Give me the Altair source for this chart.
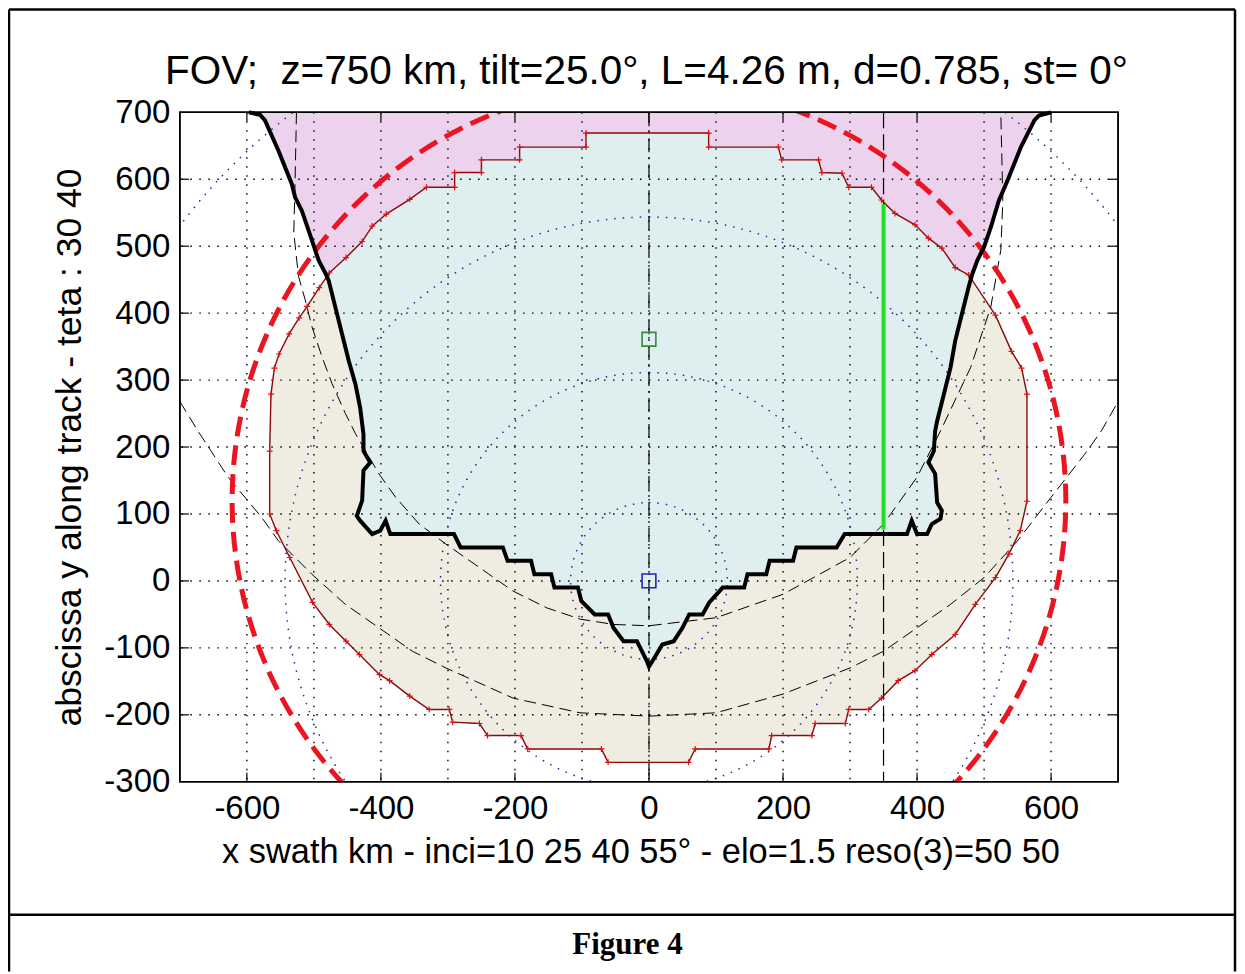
import math
import altair as alt
import pandas as pd

FONT = "Liberation Sans"
W, H = 939, 670

TITLE = "FOV;\u00a0 z=750 km, tilt=25.0°, L=4.26 m, d=0.785, st= 0°"
XTITLE = "x swath km - inci=10 25 40 55° - elo=1.5 reso(3)=50 50"
YTITLE = "abscissa y along track - teta : 30 40"
CAPTION = "Figure 4"

x_ticks = [-600, -400, -200, 0, 200, 400, 600]
y_ticks = [-300, -200, -100, 0, 100, 200, 300, 400, 500, 600, 700]
grid_x = [-600, -500, -400, -300, -200, -100, 0, 100, 200, 300, 400, 500, 600]
grid_y = [-200, -100, 0, 100, 200, 300, 400, 500, 600]

# stepped footprint boundary: upper part (between crossings with the thick black curve)
step_top_x = [-477, -452, -428, -413, -392, -357, -332, -290, -290, -250, -250, -193, -193, -94, -94,
              89, 89, 193, 198, 253, 258, 288, 298, 332, 347, 367, 397, 417, 437, 457, 477]
step_top_y = [460, 483, 507, 530, 548, 570, 588, 588, 610, 610, 629, 629, 648, 648, 669,
              669, 648, 648, 629, 629, 610, 609, 588, 588, 569, 549, 532, 512, 497, 468, 457]
# rest of the stepped boundary (clockwise, right side, bottom, left side)
step_rest_x = [517, 541, 556, 564, 564, 554, 537, 517, 487, 457, 422, 397, 372, 347, 328, 298, 293, 248,
               243, 183, 179, 69, 59, -61, -71, -181, -191, -241, -253, -293, -298, -328, -357, -387,
               -402, -432, -452, -477, -502, -536, -556, -566, -566, -564, -559, -552, -537, -522, -510, -492]
step_rest_y = [397, 343, 318, 279, 119, 75, 40, 5, -35, -80, -110, -134, -149, -175, -192, -192, -213, -213,
               -231, -231, -251, -251, -271, -271, -251, -251, -231, -231, -213, -211, -192, -192, -172, -149,
               -140, -110, -90, -65, -32, 35, 75, 100, 194, 279, 318, 339, 369, 393, 410, 438]

# thick black curve: left upper branch (top -> crossing), lower part, right upper branch (crossing -> top)
black_left_x = [-597, -580, -573, -553, -533, -528, -518, -503, -493, -482]
black_left_y = [700, 696, 688, 643, 593, 573, 553, 509, 479, 458]
black_low_x = [-478, -468, -458, -448, -438, -431, -426, -426, -416, -426, -428, -436, -431, -413, -401, -393,
               -386, -291, -281, -218, -211, -176, -171, -146, -141, -106, -101, -81, -61, -53, -38, -18, -3,
               0, 5, 20, 37, 50, 60, 80, 90, 110, 142, 147, 175, 180, 215, 220, 280, 292, 385, 392, 400, 415,
               422, 435, 437, 430, 427, 417, 425, 427, 430, 440, 450, 457, 467, 477]
black_low_y = [449, 409, 369, 329, 294, 259, 219, 194, 177, 165, 120, 97, 90, 70, 75, 90,
               70, 70, 50, 50, 30, 30, 10, 10, -10, -10, -30, -50, -50, -70, -90, -90, -120,
               -128, -120, -95, -90, -70, -50, -50, -32, -10, -10, 10, 10, 30, 30, 50, 50, 70, 70, 90, 70, 70,
               85, 93, 105, 117, 160, 177, 194, 224, 239, 279, 319, 359, 399, 439]
black_right_x = [482, 490, 500, 510, 522, 535, 555, 575, 582, 600]
black_right_y = [457, 479, 499, 528, 568, 598, 648, 688, 695, 700]

# thin dashed curves
inner_u_x = [-526, -528, -530, -523, -513, -503, -488, -473, -453, -438, -403, -378, -343, -303, -253, -203,
             -153, -103, -53, 0, 100, 200, 300, 350, 400, 435, 480, 510, 525, 528, 525]
inner_u_y = [700, 600, 520, 455, 420, 380, 335, 295, 250, 220, 160, 125, 85, 55, 20, -15,
             -40, -57, -65, -67, -55, -20, 35, 85, 155, 224, 319, 409, 494, 568, 700]
outer_u_x = [-700, -673, -628, -578, -553, -503, -453, -403, -353, -303, -203, -103, 0, 100, 200, 300,
             350, 400, 450, 500, 550, 600, 650, 675, 700]
outer_u_y = [268, 224, 155, 95, 60, 10, -35, -70, -105, -130, -175, -197, -202, -197, -169, -130,
             -105, -70, -35, 5, 60, 125, 189, 224, 268]
center_line_x = [0]
track_line_x = [350]

# circles (centre x, centre y, radius)
blue_cx = [0, 0, 0, 0]
blue_cy = [0, 0, 0, 0]
blue_r = [117, 311, 543, 878]
red_cx = [0]
red_cy = [120]
red_r = [622]

# green segment and markers
green_x = [350]
green_y0 = [77]
green_y1 = [563]
sq_blue = (0, 0)
sq_green = (0, 361)

xs = alt.Scale(domain=[-700, 700], nice=False, zero=False)
ys = alt.Scale(domain=[-300, 700], nice=False, zero=False)
x_axis = alt.Axis(values=x_ticks, labelExpr="'' + datum.value", title=XTITLE, grid=False, ticks=False,
                  domain=False, labelFont=FONT, labelFontSize=33, labelColor="black", labelPadding=11,
                  titleFont=FONT, titleFontSize=34.4, titleFontWeight="normal", titleColor="black",
                  titlePadding=10, titleX=461, labelOverlap=False)
y_axis = alt.Axis(values=y_ticks, labelExpr="'' + datum.value", title=YTITLE, grid=False, ticks=False,
                  domain=False, labelFont=FONT, labelFontSize=33, labelColor="black", labelPadding=10,
                  titleFont=FONT, titleFontSize=35.5, titleFontWeight="normal", titleColor="black",
                  titlePadding=16, labelOverlap=False)


def X(f="x"):
    return alt.X(f"{f}:Q", scale=xs, axis=x_axis)


def Y(f="y"):
    return alt.Y(f"{f}:Q", scale=ys, axis=y_axis)


def path_df(xv, yv):
    return pd.DataFrame({"x": xv, "y": yv, "i": list(range(len(xv)))})


def polygon(df, color):
    return alt.Chart(df).mark_line(fill=color, strokeOpacity=0, strokeWidth=0).encode(
        x=X(), y=Y(), order="i:Q")


step_all_x = step_top_x + step_rest_x
step_all_y = step_top_y + step_rest_y
beige_df = path_df(step_all_x, step_all_y)
blue_df = path_df(black_left_x[-1:] + black_low_x + black_right_x[:1] + step_top_x[::-1],
                  black_left_y[-1:] + black_low_y + black_right_y[:1] + step_top_y[::-1])
pink_df = path_df(black_left_x + step_top_x + black_right_x,
                  black_left_y + step_top_y + black_right_y)
outline_df = path_df(step_all_x + step_all_x[:1], step_all_y + step_all_y[:1])
black_df = path_df(black_left_x + black_low_x + black_right_x, black_left_y + black_low_y + black_right_y)

layers = []
layers.append(polygon(beige_df, "#efede1"))
layers.append(polygon(blue_df, "#dfeff0"))
layers.append(polygon(pink_df, "#ecd2ec"))

# dotted grid
layers.append(alt.Chart(pd.DataFrame({"v": grid_x})).mark_rule(
    color="black", strokeWidth=1.4, strokeDash=[1.5, 7.5]).encode(x=X("v")))
layers.append(alt.Chart(pd.DataFrame({"v": grid_y})).mark_rule(
    color="black", strokeWidth=1.4, strokeDash=[1.5, 7.5]).encode(y=Y("v")))

radius_scale = alt.Scale(type="linear", domain=[0, 700], range=[0, 469.5], zero=True)

# blue dotted incidence circles
layers.append(alt.Chart(pd.DataFrame({"cx": blue_cx, "cy": blue_cy, "r": blue_r})).mark_arc(
    filled=False, stroke="#1f2a9c", strokeWidth=1.5, strokeDash=[1.5, 7], theta=0, theta2=math.tau,
    clip=True).encode(x=X("cx"), y=Y("cy"), radius=alt.Radius("r:Q", scale=radius_scale, stack=False)))

# thin dashed curves
layers.append(alt.Chart(path_df(inner_u_x, inner_u_y)).mark_line(
    color="black", strokeWidth=1, strokeDash=[12, 6], clip=True).encode(x=X(), y=Y(), order="i:Q"))
layers.append(alt.Chart(path_df(outer_u_x, outer_u_y)).mark_line(
    color="black", strokeWidth=1, strokeDash=[12, 6], clip=True).encode(x=X(), y=Y(), order="i:Q"))
layers.append(alt.Chart(pd.DataFrame({"v": center_line_x})).mark_rule(
    color="black", strokeWidth=1.2, strokeDash=[14, 5, 2, 5]).encode(x=X("v")))
layers.append(alt.Chart(pd.DataFrame({"v": track_line_x})).mark_rule(
    color="black", strokeWidth=1.2, strokeDash=[16, 6]).encode(x=X("v")))

# stepped outline with + markers
layers.append(alt.Chart(outline_df).mark_line(color="#8b0a0a", strokeWidth=1.4).encode(
    x=X(), y=Y(), order="i:Q"))
layers.append(alt.Chart(beige_df).mark_point(
    shape="M -1 0 L 1 0 M 0 -1 L 0 1", size=36, color="#e01010", strokeWidth=1.2, filled=False,
    opacity=1).encode(x=X(), y=Y()))

# red dashed circle
layers.append(alt.Chart(pd.DataFrame({"cx": red_cx, "cy": red_cy, "r": red_r})).mark_arc(
    filled=False, stroke="#ec1420", strokeWidth=5, strokeDash=[20, 9], theta=0, theta2=math.tau,
    clip=True).encode(x=X("cx"), y=Y("cy"), radius=alt.Radius("r:Q", scale=radius_scale, stack=False)))

# thick black footprint curve
layers.append(alt.Chart(black_df).mark_line(color="black", strokeWidth=4, strokeJoin="miter").encode(
    x=X(), y=Y(), order="i:Q"))

# green segment
layers.append(alt.Chart(pd.DataFrame({"x": green_x, "y": green_y0, "y2": green_y1})).mark_rule(
    color="#1ee01e", strokeWidth=4).encode(x=X(), y=Y(), y2="y2:Q"))

# squares
layers.append(alt.Chart(pd.DataFrame({"x": [sq_blue[0]], "y": [sq_blue[1]]})).mark_point(
    shape="square", filled=False, size=190, color="#2323c8", strokeWidth=1.6, opacity=1).encode(x=X(), y=Y()))
layers.append(alt.Chart(pd.DataFrame({"x": [sq_green[0]], "y": [sq_green[1]]})).mark_point(
    shape="square", filled=False, size=190, color="#3a8a3a", strokeWidth=1.6, opacity=1).encode(x=X(), y=Y()))

# inward tick marks
tx = pd.DataFrame({"v": x_ticks})
ty = pd.DataFrame({"v": y_ticks[1:-1]})
layers.append(alt.Chart(tx).mark_rule(color="black", strokeWidth=1.2).encode(
    x=X("v"), y=alt.value(H), y2=alt.value(H - 9)))
layers.append(alt.Chart(tx).mark_rule(color="black", strokeWidth=1.2).encode(
    x=X("v"), y=alt.value(0), y2=alt.value(9)))
layers.append(alt.Chart(ty).mark_rule(color="black", strokeWidth=1.2).encode(
    y=Y("v"), x=alt.value(0), x2=alt.value(9)))
layers.append(alt.Chart(ty).mark_rule(color="black", strokeWidth=1.2).encode(
    y=Y("v"), x=alt.value(W), x2=alt.value(W - 9)))

one = pd.DataFrame({"t": [CAPTION], "title": [TITLE]})
# plot frame
layers.append(alt.Chart(one).mark_rect(fillOpacity=0, stroke="black", strokeWidth=1.5).encode(
    x=alt.value(0), x2=alt.value(W), y=alt.value(0), y2=alt.value(H)))

# chart title
layers.append(alt.Chart(one).mark_text(font=FONT, fontSize=40.5, color="black", align="center",
                                       baseline="alphabetic").encode(
    x=alt.value(467), y=alt.value(-28), text="title:N"))

# page table borders and caption
L, R, T, B, MID = -171, 1056, -103, 860, 803
layers.append(alt.Chart(one).mark_rule(color="black", strokeWidth=2.5).encode(
    x=alt.value(L), x2=alt.value(R), y=alt.value(T)))
layers.append(alt.Chart(one).mark_rule(color="black", strokeWidth=2.5).encode(
    x=alt.value(L), x2=alt.value(R), y=alt.value(MID)))
layers.append(alt.Chart(one).mark_rule(color="black", strokeWidth=2.5).encode(
    x=alt.value(L), y=alt.value(T), y2=alt.value(B)))
layers.append(alt.Chart(one).mark_rule(color="black", strokeWidth=2.5).encode(
    x=alt.value(R), y=alt.value(T), y2=alt.value(B)))
layers.append(alt.Chart(one).mark_text(font="Liberation Serif", fontSize=31, fontWeight="bold",
                                       color="black", align="center", baseline="middle").encode(
    x=alt.value(448), y=alt.value(833), text="t:N"))

chart = alt.layer(*layers).properties(
    width=W, height=H,
    autosize=alt.AutoSizeParams(type="none"),
    padding={"left": 172, "top": 104, "right": 119, "bottom": 190},
).configure_view(stroke="black", strokeWidth=1.5)

chart.save("out.html", embed_options={"renderer": "svg", "actions": False})
